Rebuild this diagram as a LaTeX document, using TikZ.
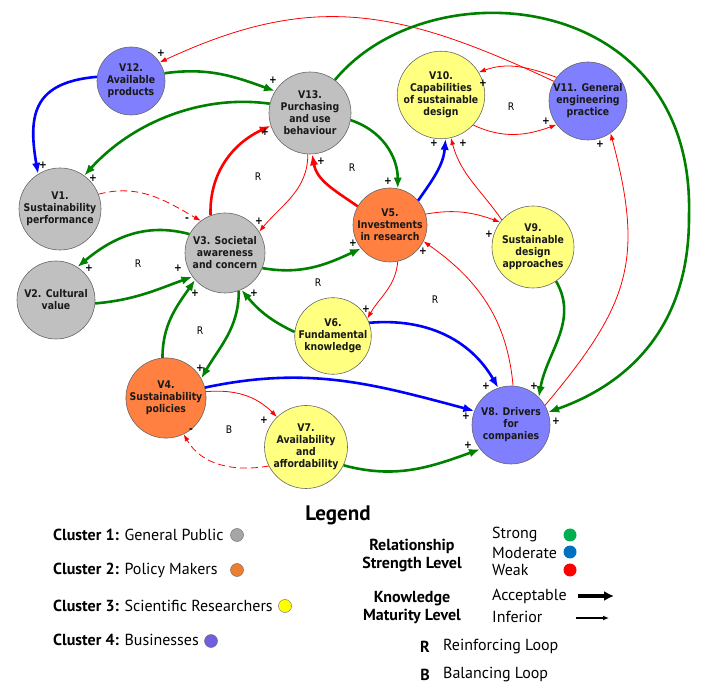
\documentclass[tikz,border=0pt]{standalone}
\usepackage{fontspec}
\usepackage{tikz}
\usetikzlibrary{arrows.meta}
\newfontfamily\varfont{DejaVu Sans}[FakeStretch=0.88]
\newfontfamily\legfont{PT Sans}
\definecolor{rimgray}{HTML}{666666}
\definecolor{pubgray}{HTML}{C0C0C0}
\definecolor{polorange}{HTML}{FF8040}
\definecolor{sciyellow}{HTML}{FFFF80}
\definecolor{busblue}{HTML}{8080FF}
\definecolor{relgreen}{HTML}{008000}
\definecolor{relblue}{HTML}{0000FF}
\definecolor{relred}{HTML}{FF0000}
\definecolor{keygreen}{HTML}{00B050}
\definecolor{keyblue}{HTML}{0070C0}
\definecolor{keygray}{HTML}{A6A6A6}
\definecolor{keyorange}{HTML}{ED7D31}
\definecolor{keyyellow}{HTML}{FFFF00}
\definecolor{keypurple}{HTML}{7060E0}

\begin{document}
\begin{tikzpicture}[x=1pt, y=1pt,
        var/.style={circle, draw=rimgray, line width=0.6pt, inner sep=0pt, align=center, text=black!90,
            font=\varfont\bfseries\fontsize{10.6}{12}\selectfont},
        public/.style={var, fill=pubgray},
        policy/.style={var, fill=polorange},
        science/.style={var, fill=sciyellow},
        business/.style={var, fill=busblue},
        strongrel/.style={draw=relgreen},
        modrel/.style={draw=relblue},
        weakrel/.style={draw=relred},
        accept/.style={line width=2.6pt, -{Latex[length=11pt,width=8.5pt]}},
        inferior/.style={line width=0.8pt, -{Latex[length=7pt,width=5pt]}},
        negative/.style={dash pattern=on 7pt off 4pt},
        polsign/.style={font=\varfont\bfseries\fontsize{10.5}{12}\selectfont, inner sep=0pt},
        looplabel/.style={font=\varfont\fontsize{10.5}{12}\selectfont, inner sep=0pt},
        legtext/.style={font=\legfont\fontsize{16}{18}\selectfont, inner sep=0pt},
        legbold/.style={font=\legfont\bfseries\fontsize{16}{18}\selectfont, inner sep=0pt},
        keydot/.style={circle, inner sep=0pt, minimum size=13pt}]
        \useasboundingbox (0,0) rectangle (723,694);

        \node[business, minimum size=68pt] (V12) at (131,613) {V12.\\Available\\products};
        \node[public, minimum size=82pt] (V13) at (310,581) {V13.\\Purchasing\\and use\\behaviour};
        \node[public, minimum size=82pt] (V1) at (60,485) {V1.\\Sustainability\\performance};
        \node[public, minimum size=80pt] (V3) at (225,441) {V3. Societal\\awareness\\and concern};
        \node[public, minimum size=78pt] (V2) at (56,394) {V2. Cultural\\value};
        \node[policy, minimum size=76pt] (V4) at (166,296) {V4.\\Sustainability\\policies};
        \node[policy, minimum size=74pt] (V5) at (390,469) {V5.\\Investments\\in research};
        \node[science, minimum size=83pt] (V7) at (306,247) {V7.\\Availability\\and\\affordability};
        \node[science, minimum size=76pt] (V6) at (333,358) {V6.\\Fundamental\\knowledge};
        \node[science, minimum size=80pt] (V10) at (441,599) {V10.\\Capabilities\\of sustainable\\design};
        \node[science, minimum size=82pt] (V9) at (533,447) {V9.\\Sustainable\\design\\approaches};
        \node[business, minimum size=78pt] (V11) at (588,593) {V11. General\\engineering\\practice};
        \node[business, minimum size=78pt] (V8) at (511,269) {V8. Drivers\\for\\companies};
        \coordinate (arcturn) at (689,479);

        \draw[weakrel, inferior] (V11.150) to[out=155, in=25, looseness=1.1] (V12.33);
        \draw[strongrel, accept] (V12.13) to[out=8, in=160] (V13.148);
        \draw[modrel, accept] (V12.173) to[out=185, in=100, looseness=1.4] (V1.122);
        \draw[strongrel, accept] (V13.167) to[out=172, in=48, looseness=0.9] (V1.54);
        \draw[weakrel, inferior, negative] (V1.21) to[out=15, in=150] (V3.127);
        \draw[weakrel, accept] (V3.111) to[out=92, in=205] (V13.198);
        \draw[weakrel, inferior] (V13.267) to[out=270, in=50] (V3.32);
        \draw[weakrel, accept] (V5.150) to[out=145, in=280] (V13.273);
        \draw[strongrel, accept] (V13.350) to[out=-18, in=90] (V5.78);
        \draw[strongrel, accept] (V13.53) .. controls (430,729) and (695,704) .. (arcturn)
            .. controls (690,364) and (625,309) .. (V8.19);
        \draw[weakrel, inferior] (V11.143) to[out=160, in=20] (V10.31);
        \draw[weakrel, inferior] (V10.317) to[out=-25, in=200] (V11.217);
        \draw[modrel, accept] (V5.41) to[out=55, in=265] (V10.276);
        \draw[weakrel, inferior] (V9.139) to[out=125, in=285] (V10.283);
        \draw[weakrel, inferior] (V5.17) to[out=10, in=160] (V9.143);
        \draw[strongrel, accept] (V3.152) to[out=165, in=40] (V2.57);
        \draw[strongrel, accept] (V2.355) to[out=5, in=200] (V3.216);
        \draw[strongrel, accept] (V3.338) to[out=-10, in=205] (V5.219);
        \draw[strongrel, accept] (V4.95) to[out=90, in=235] (V3.222);
        \draw[strongrel, accept] (V3.290) to[out=270, in=60] (V4.29);
        \draw[strongrel, accept] (V6.174) to[out=155, in=310] (V3.294);
        \draw[weakrel, inferior] (V5.282) to[out=265, in=60] (V6.27);
        \draw[modrel, accept] (V6.20) to[out=5, in=120] (V8.109);
        \draw[weakrel, inferior] (V8.87) to[out=95, in=-35] (V5.334);
        \draw[strongrel, accept] (V9.304) to[out=-60, in=80] (V8.45);
        \draw[weakrel, inferior] (V8.30) to[out=50, in=285, looseness=1.2] (V11.305);
        \draw[modrel, accept] (V4.15) to[out=12, in=165] (V8.159);
        \draw[weakrel, inferior] (V4.9) to[out=5, in=135] (V7.134);
        \draw[weakrel, inferior, negative] (V7.207) to[out=190, in=300] (V4.296);
        \draw[strongrel, accept] (V7.334) to[out=-15, in=200] (V8.218);

        \foreach \px/\py [count=\i] in {161/641, 273/614, 43/529, 93/516, 265/562, 259/473, 321/533,
                388/513, 556/273, 483/611, 546/573, 434/551, 463/551, 489/460, 89/426, 178/426,
                353/451, 195/401, 200/326, 254/401, 366/385, 486/308, 423/443, 534/308, 600/550,
                466/278, 264/274, 468/249}
            \node[polsign] (plus\i) at (\px,\py) {+};
        \node[polsign] (minus1) at (187,474) {-};
        \node[polsign] (minus2) at (191,263) {-};

        \foreach \px/\py [count=\i] in {511/587, 258/517, 352/526, 138/430, 318/411, 200/363, 435/394}
            \node[looplabel] (loopR\i) at (\px,\py) {R};
        \node[looplabel] (loopB1) at (229,264) {B};

        % legend
        \node[legbold, font=\legfont\bfseries\fontsize{21}{24}\selectfont] (legend) at (338,179) {Legend};
        \node[legtext, anchor=west] (c1) at (53,159) {\textbf{Cluster 1:} General Public};
        \node[legtext, anchor=west] (c2) at (53,124) {\textbf{Cluster 2:} Policy Makers};
        \node[legtext, anchor=west] (c3) at (53,88) {\textbf{Cluster 3:} Scientific Researchers};
        \node[legtext, anchor=west] (c4) at (53,54) {\textbf{Cluster 4:} Businesses};
        \node[keydot, draw=rimgray, fill=keygray] (c1dot) at (237,159) {};
        \node[keydot, draw=rimgray, fill=keyorange] (c2dot) at (237,124) {};
        \node[keydot, draw=rimgray, fill=keyyellow] (c3dot) at (285,88) {};
        \node[keydot, draw=rimgray, fill=keypurple] (c4dot) at (211,53) {};

        \node[legbold, align=center] (strength) at (412,138) {Relationship\\Strength Level};
        \node[legtext, anchor=west] (strong) at (492,160) {Strong};
        \node[legtext, anchor=west] (moderate) at (492,141) {Moderate};
        \node[legtext, anchor=west] (weak) at (492,124) {Weak};
        \node[keydot, fill=keygreen] (strongdot) at (570,159) {};
        \node[keydot, fill=keyblue] (moddot) at (570,142) {};
        \node[keydot, fill=relred] (weakdot) at (570,124) {};

        \node[legbold, align=center] (maturity) at (412,86) {Knowledge\\Maturity Level};
        \node[legtext, anchor=west] (acceptable) at (492,98) {Acceptable};
        \node[legtext, anchor=west] (inferiortext) at (492,77) {Inferior};
        \coordinate (acc0) at (578,98);
        \coordinate (acc1) at (614,98);
        \coordinate (inf0) at (576,76);
        \coordinate (inf1) at (609,76);
        \draw[line width=3.6pt, -{Latex[length=10pt,width=10pt]}] (acc0) -- (acc1);
        \draw[line width=1.3pt, -{Latex[length=6pt,width=5pt]}] (inf0) -- (inf1);

        \node[legbold] (keyR) at (425,47) {R};
        \node[legtext, anchor=west] (reinforcing) at (443,47) {Reinforcing Loop};
        \node[legbold] (keyB) at (425,19) {B};
        \node[legtext, anchor=west] (balancing) at (443,19) {Balancing Loop};
    \end{tikzpicture}
\end{document}
